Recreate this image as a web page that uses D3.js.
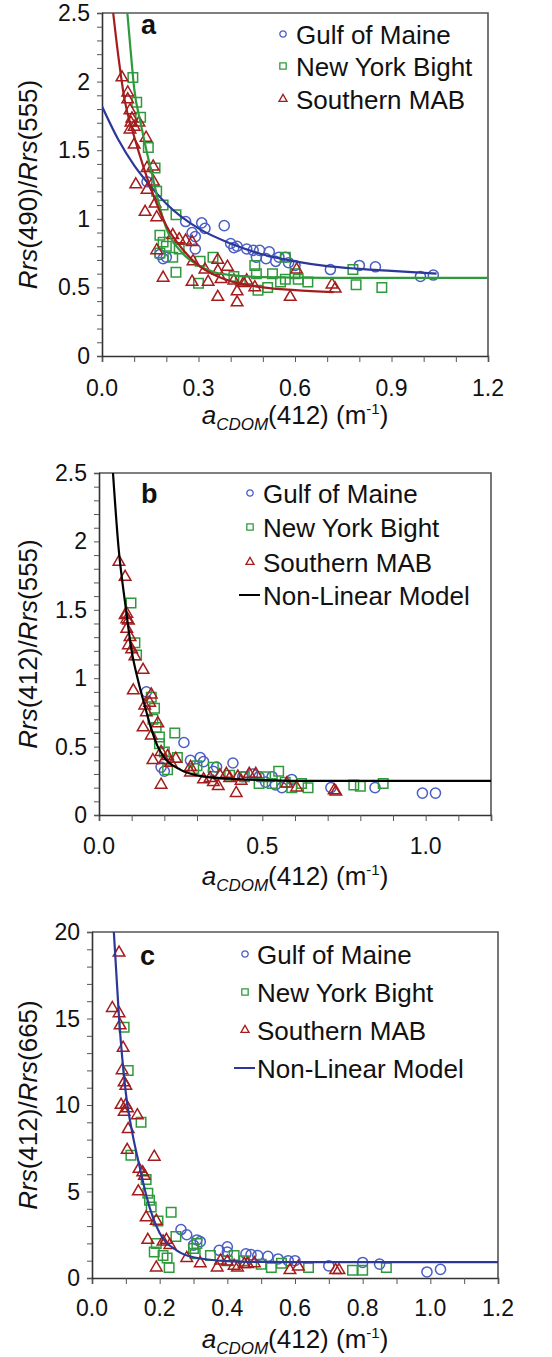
<!DOCTYPE html>
<html>
<head>
<meta charset="utf-8">
<script src="https://cdn.jsdelivr.net/npm/d3@7"></script>
<style>
  body { margin: 0; background: #fff; }
  svg { display: block; font-family: "Liberation Sans", Arial, sans-serif; }
</style>
</head>
<body>
<svg id="chart" width="552" height="1357"></svg>
<script>
// ---- data ----
const seriesNames = ["Gulf of Maine", "New York Bight", "Southern MAB"];

// panel a : Rrs(490)/Rrs(555)
const gomA = [[0.14,1.27],[0.18,0.74],[0.19,0.71],[0.2,0.72],[0.26,0.98],[0.28,0.9],[0.29,0.87],[0.29,0.78],
  [0.31,0.97],[0.32,0.93],[0.38,0.95],[0.4,0.82],[0.41,0.79],[0.42,0.8],[0.45,0.78],[0.47,0.77],[0.48,0.72],
  [0.49,0.77],[0.52,0.76],[0.51,0.71],[0.54,0.69],[0.55,0.72],[0.57,0.72],[0.58,0.68],[0.6,0.66],[0.71,0.63],
  [0.8,0.66],[0.85,0.65],[0.99,0.58],[1.03,0.59]];
const nybA = [[0.096,2.03],[0.108,1.85],[0.12,1.74],[0.144,1.52],[0.165,1.37],[0.17,1.2],[0.19,1.1],[0.23,1.03],
  [0.18,0.88],[0.19,0.83],[0.18,0.75],[0.2,0.8],[0.22,0.72],[0.23,0.61],[0.24,0.78],[0.305,0.69],[0.3,0.53],[0.345,0.72],
  [0.41,0.58],[0.43,0.55],[0.475,0.66],[0.48,0.6],[0.485,0.48],[0.515,0.5],[0.53,0.6],[0.555,0.54],[0.57,0.72],
  [0.57,0.56],[0.6,0.6],[0.61,0.56],[0.64,0.54],[0.78,0.63],[0.79,0.52],[0.87,0.5]];
const smabA = [[0.062,2.03],[0.08,1.92],[0.08,1.87],[0.087,1.79],[0.093,1.73],[0.09,1.7],[0.087,1.65],[0.1,1.67],
  [0.115,1.7],[0.1,1.54],[0.137,1.59],[0.159,1.38],[0.14,1.37],[0.105,1.25],[0.14,1.21],[0.16,1.27],[0.134,1.05],
  [0.165,1.11],[0.17,1.01],[0.17,0.77],[0.19,0.57],[0.22,0.88],[0.24,0.85],[0.26,0.84],[0.28,0.83],[0.283,0.69],
  [0.28,0.54],[0.32,0.63],[0.33,0.54],[0.36,0.7],[0.36,0.62],[0.37,0.56],[0.36,0.43],[0.39,0.65],[0.41,0.55],
  [0.42,0.47],[0.42,0.39],[0.44,0.53],[0.45,0.55],[0.475,0.5],[0.585,0.43],[0.605,0.63],[0.715,0.52],[0.725,0.49]];
const gomFitA = [[0,1.82],[0.05,1.58],[0.1,1.39],[0.15,1.24],[0.2,1.11],[0.3,0.93],[0.4,0.82],[0.5,0.74],
  [0.6,0.69],[0.7,0.655],[0.8,0.635],[0.9,0.62],[1.04,0.6]];
const nybFitA = [[0.075,2.6],[0.09,2.2],[0.1,1.95],[0.12,1.7],[0.14,1.48],[0.16,1.28],[0.18,1.08],[0.2,0.93],
  [0.25,0.75],[0.3,0.66],[0.35,0.61],[0.4,0.59],[0.5,0.575],[0.7,0.57],[1.2,0.57]];
const smabFitA = [[0.03,2.6],[0.05,2.2],[0.07,1.87],[0.1,1.6],[0.13,1.37],[0.16,1.17],[0.2,0.95],[0.25,0.78],
  [0.3,0.66],[0.35,0.59],[0.4,0.545],[0.5,0.5],[0.6,0.48],[0.72,0.465]];

// panel b : Rrs(412)/Rrs(555)
const gomB = [[0.145,0.9],[0.26,0.53],[0.19,0.35],[0.2,0.32],[0.28,0.4],[0.31,0.42],[0.32,0.39],[0.35,0.32],
  [0.36,0.35],[0.41,0.38],[0.44,0.28],[0.47,0.3],[0.49,0.28],[0.51,0.24],[0.53,0.28],[0.54,0.22],[0.56,0.2],
  [0.59,0.26],[0.71,0.2],[0.845,0.2],[0.99,0.16],[1.03,0.16]];
const nybB = [[0.098,1.55],[0.11,1.26],[0.115,1.17],[0.16,0.86],[0.17,0.78],[0.165,0.7],[0.175,0.64],[0.185,0.57],
  [0.185,0.52],[0.232,0.6],[0.2,0.46],[0.21,0.33],[0.24,0.42],[0.29,0.34],[0.3,0.36],[0.35,0.35],[0.4,0.29],
  [0.445,0.28],[0.49,0.23],[0.51,0.28],[0.53,0.23],[0.55,0.32],[0.57,0.24],[0.59,0.2],[0.62,0.23],[0.64,0.2],
  [0.78,0.22],[0.8,0.21],[0.87,0.23]];
const smabB = [[0.061,1.85],[0.08,1.74],[0.085,1.47],[0.08,1.46],[0.09,1.42],[0.085,1.36],[0.095,1.3],[0.085,1.43],
  [0.09,1.24],[0.1,1.21],[0.11,1.16],[0.135,1.06],[0.105,0.91],[0.14,0.8],[0.145,0.75],[0.155,0.82],[0.16,0.88],
  [0.135,0.64],[0.16,0.58],[0.18,0.67],[0.165,0.4],[0.19,0.22],[0.19,0.46],[0.2,0.4],[0.21,0.43],[0.22,0.38],
  [0.235,0.41],[0.28,0.35],[0.28,0.31],[0.32,0.26],[0.34,0.27],[0.35,0.24],[0.365,0.21],[0.37,0.29],[0.39,0.3],
  [0.4,0.27],[0.42,0.16],[0.425,0.28],[0.435,0.25],[0.46,0.3],[0.48,0.3],[0.575,0.23],[0.605,0.2],[0.72,0.18],[0.725,0.17]];
const fitB = [[0.04,2.6],[0.06,1.95],[0.08,1.55],[0.1,1.2],[0.12,0.98],[0.14,0.8],[0.16,0.63],[0.18,0.5],
  [0.2,0.42],[0.25,0.33],[0.3,0.29],[0.4,0.265],[0.5,0.255],[0.6,0.25],[1.2,0.25]];

// panel c : Rrs(412)/Rrs(665)
const gomC = [[0.263,2.8],[0.28,2.5],[0.31,2.2],[0.32,2.1],[0.3,1.9],[0.376,1.6],[0.4,1.8],[0.4,1.5],[0.455,1.4],
  [0.47,1.35],[0.49,1.3],[0.52,1.25],[0.55,1.1],[0.58,1.0],[0.6,1.0],[0.7,0.7],[0.8,0.9],[0.85,0.8],[0.99,0.35],[1.03,0.5]];
const nybC = [[0.095,14.5],[0.107,12.0],[0.145,9.0],[0.115,7.1],[0.16,5.7],[0.165,4.9],[0.17,4.5],[0.175,4.1],
  [0.234,3.8],[0.195,3.3],[0.248,2.4],[0.19,2.0],[0.184,1.5],[0.21,1.3],[0.222,1.15],[0.228,0.6],[0.31,2.0],
  [0.3,1.7],[0.305,1.4],[0.35,1.3],[0.4,1.0],[0.42,1.3],[0.45,1.0],[0.5,0.8],[0.53,0.6],[0.56,0.85],[0.64,0.6],
  [0.77,0.45],[0.8,0.45],[0.87,0.6]];
const smabC = [[0.08,18.8],[0.06,15.6],[0.08,15.3],[0.083,14.6],[0.092,13.3],[0.089,12.0],[0.1,11.1],[0.095,11.3],
  [0.086,10.0],[0.1,10.0],[0.095,9.6],[0.105,9.8],[0.134,9.4],[0.107,8.6],[0.104,7.4],[0.184,7.0],[0.139,6.3],
  [0.15,6.1],[0.155,5.9],[0.137,5.0],[0.16,3.5],[0.165,2.2],[0.19,0.6],[0.19,3.3],[0.21,2.1],[0.22,2.2],[0.23,1.9],
  [0.28,1.15],[0.32,0.85],[0.37,0.6],[0.38,1.0],[0.4,0.95],[0.42,0.7],[0.43,0.6],[0.45,0.8],[0.46,0.8],[0.48,0.85],
  [0.585,0.45],[0.61,0.65],[0.72,0.45],[0.73,0.45]];
const fitC = [[0.063,20.5],[0.08,15],[0.1,10.7],[0.12,8.3],[0.14,6.5],[0.16,4.8],[0.18,3.5],[0.2,2.6],[0.25,1.6],
  [0.3,1.2],[0.4,0.98],[0.5,0.93],[0.6,0.92],[1.2,0.92]];

// ---- style ----
const colors = {gom: "#4b5ec4", nyb: "#2f9a3c", smab: "#a41c1c"};
const lineColors = {gom: "#2b3899", nyb: "#2f9a3c", smab: "#a41c1c"};
const symbols = {gom: d3.symbolCircle, nyb: d3.symbolSquare, smab: d3.symbolTriangle};
const symSize = {gom: 80, nyb: 90, smab: 58};
const legSize = {gom: 32, nyb: 40, smab: 28};

const svg = d3.select("#chart");
svg.append("rect").attr("width", 552).attr("height", 1357).attr("fill", "#fff");

const panels = [
  {id: "a", box: [102, 488, 13, 356], yMax: 2.5, yMinor: 0.1, yTicks: [0, 0.5, 1, 1.5, 2, 2.5],
   xTicks: [0, 0.3, 0.6, 0.9, 1.2], xFmt: d3.format(".1f"), yFmt: d3.format("~g"),
   yLabel: [["Rrs", true], ["(490)/", false], ["Rrs", true], ["(555)", false]],
   pts: {gom: gomA, nyb: nybA, smab: smabA},
   fits: [[gomFitA, lineColors.gom], [nybFitA, lineColors.nyb], [smabFitA, lineColors.smab]],
   legend: {x: 283, ys: [44, 76, 109], model: null, tx: 296}, letter: [141, 34], tickLabY: 396, xLabY: 424},
  {id: "b", box: [99, 491, 473, 815], yMax: 2.5, yMinor: 0.1, yTicks: [0, 0.5, 1, 1.5, 2, 2.5],
   xTicks: [0, 0.5, 1.0], xFmt: d3.format(".1f"), yFmt: d3.format("~g"),
   yLabel: [["Rrs", true], ["(412)/", false], ["Rrs", true], ["(555)", false]],
   pts: {gom: gomB, nyb: nybB, smab: smabB},
   fits: [[fitB, "#000"]],
   legend: {x: 250, ys: [503, 537, 572, 605], model: "#000", tx: 263}, letter: [141, 503], tickLabY: 854, xLabY: 885},
  {id: "c", box: [92, 498, 932, 1278], yMax: 20, yMinor: 1, yTicks: [0, 5, 10, 15, 20],
   xTicks: [0, 0.2, 0.4, 0.6, 0.8, 1.0, 1.2], xFmt: d3.format(".1f"), yFmt: d3.format("~g"),
   yLabel: [["Rrs", true], ["(412)/", false], ["Rrs", true], ["(665)", false]],
   pts: {gom: gomC, nyb: nybC, smab: smabC},
   fits: [[fitC, lineColors.gom]],
   legend: {x: 245, ys: [964, 1002, 1040, 1078], model: lineColors.gom, tx: 257}, letter: [140, 965], tickLabY: 1316, xLabY: 1348}
];

panels.forEach(p => drawPanel(p));

function drawPanel(p) {
  const [left, right, top, bottom] = p.box;
  const x = d3.scaleLinear().domain([0, 1.2]).range([left, right]);
  const y = d3.scaleLinear().domain([0, p.yMax]).range([bottom, top]);
  const g = svg.append("g");

  // clip for fit lines
  g.append("clipPath").attr("id", "clip-" + p.id)
    .append("rect").attr("x", left).attr("y", top).attr("width", right - left).attr("height", bottom - top);

  // frame (top/right)
  g.append("path")
    .attr("d", `M${left},${top}H${right}V${bottom}`)
    .attr("fill", "none").attr("stroke", "#555").attr("stroke-width", 1.6);

  // minor ticks via axes
  const xMinor = d3.range(0, 1.2001, 0.1);
  const yMinor = d3.range(0, p.yMax + 1e-6, p.yMinor);

  const xAxis = g.append("g").attr("transform", `translate(0,${bottom})`)
    .call(d3.axisBottom(x).tickValues(xMinor).tickSize(6).tickFormat(""));
  const yAxis = g.append("g").attr("transform", `translate(${left},0)`)
    .call(d3.axisLeft(y).tickValues(yMinor).tickSize(5).tickFormat(""));
  [xAxis, yAxis].forEach(a => {
    a.select(".domain").attr("stroke", "#333").attr("stroke-width", 1.6);
    a.selectAll(".tick line").attr("stroke", "#555").attr("stroke-width", 1);
  });

  // tick labels
  g.append("g").selectAll("text").data(p.xTicks).join("text")
    .attr("x", d => x(d)).attr("y", p.tickLabY)
    .attr("text-anchor", "middle").attr("font-size", 23).attr("fill", "#111")
    .text(p.xFmt);
  g.append("g").selectAll("text").data(p.yTicks).join("text")
    .attr("x", left - 12).attr("y", d => y(d) + 8)
    .attr("text-anchor", "end").attr("font-size", 23).attr("fill", "#111")
    .text(p.yFmt);

  // axis titles
  const yl = g.append("text")
    .attr("transform", `translate(37,${(top + bottom) / 2}) rotate(-90)`)
    .attr("text-anchor", "middle").attr("font-size", 26).attr("fill", "#111");
  p.yLabel.forEach(([t, it]) => yl.append("tspan").attr("font-style", it ? "italic" : "normal").text(t));

  const xl = g.append("text")
    .attr("x", (left + right) / 2).attr("y", p.xLabY)
    .attr("text-anchor", "middle").attr("font-size", 26).attr("fill", "#111");
  xl.append("tspan").attr("font-style", "italic").text("a");
  xl.append("tspan").attr("font-style", "italic").attr("font-size", 17).attr("dy", 6).text("CDOM");
  xl.append("tspan").attr("dy", -6).text("(412) (m");
  xl.append("tspan").attr("font-size", 15).attr("dy", -10).text("-1");
  xl.append("tspan").attr("dy", 10).text(")");

  // points
  ["gom", "nyb", "smab"].forEach(k => {
    g.append("g").selectAll("path").data(p.pts[k]).join("path")
      .attr("transform", d => `translate(${x(d[0])},${y(d[1])})`)
      .attr("d", d3.symbol(symbols[k], symSize[k]))
      .attr("fill", "none").attr("stroke", colors[k]).attr("stroke-width", 1.5);
  });

  // fit lines
  const line = d3.line().x(d => x(d[0])).y(d => y(d[1])).curve(d3.curveMonotoneX);
  p.fits.forEach(([data, col]) => {
    g.append("path").datum(data)
      .attr("clip-path", `url(#clip-${p.id})`)
      .attr("d", line).attr("fill", "none").attr("stroke", col).attr("stroke-width", 2.2);
  });

  // panel letter
  g.append("text").attr("x", p.letter[0]).attr("y", p.letter[1])
    .attr("font-size", 27).attr("font-weight", "bold").attr("fill", "#111").text(p.id);

  // legend
  const L = p.legend;
  ["gom", "nyb", "smab"].forEach((k, i) => {
    g.append("path")
      .attr("transform", `translate(${L.x},${L.ys[i] - 10})`)
      .attr("d", d3.symbol(symbols[k], legSize[k]))
      .attr("fill", "none").attr("stroke", colors[k]).attr("stroke-width", 1.3);
    g.append("text").attr("x", L.tx).attr("y", L.ys[i])
      .attr("font-size", 26).attr("fill", "#111").text(seriesNames[i]);
  });
  if (L.model) {
    g.append("line").attr("x1", L.x - 11).attr("x2", L.x + 10)
      .attr("y1", L.ys[3] - 10).attr("y2", L.ys[3] - 10)
      .attr("stroke", L.model).attr("stroke-width", 2);
    g.append("text").attr("x", L.tx).attr("y", L.ys[3])
      .attr("font-size", 26).attr("fill", "#111").text("Non-Linear Model");
  }
}
</script>
</body>
</html>
